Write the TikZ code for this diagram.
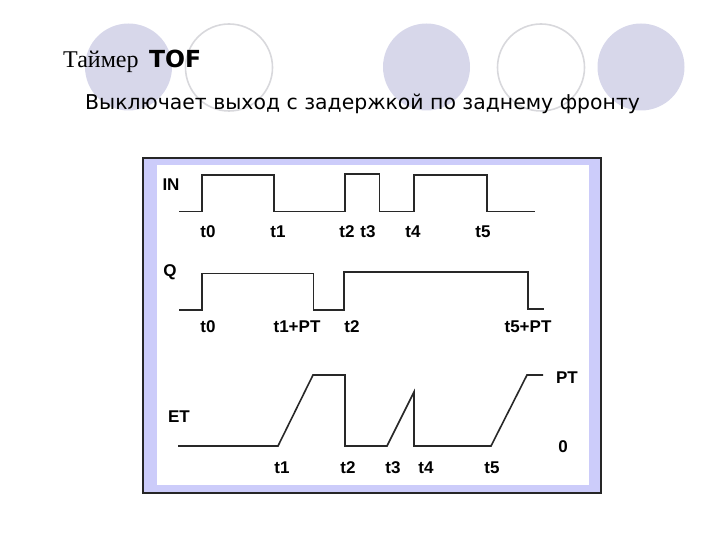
\documentclass[tikz,border=0pt]{standalone}
\usepackage{fontspec}
\setmainfont{Liberation Serif}
\newfontfamily\dvs{DejaVu Sans}
\newfontfamily\lsans{Liberation Sans}
\definecolor{discfill}{RGB}{215,215,234}
\definecolor{ringcol}{RGB}{216,216,220}
\definecolor{bandcol}{RGB}{204,204,250}
\definecolor{wavecol}{RGB}{40,40,40}
\begin{document}
\begin{tikzpicture}[x=1pt,y=-1pt,
  disc/.style={fill=discfill,draw=none},
  ring/.style={draw=ringcol,line width=1.6pt,fill=none},
  wave/.style={draw=wavecol,line width=1.6pt,line join=miter},
  lbl/.style={font=\lsans\bfseries\fontsize{17}{19}\selectfont,inner sep=0pt,text=black}]
\useasboundingbox (0,0) rectangle (720,540);
% decorative circles
\fill[disc] (128.5,67) circle[radius=43.5pt];
\draw[ring] (229,67.5) circle[radius=43.5pt];
\fill[disc] (426.5,67) circle[radius=43.5pt];
\draw[ring] (541,67.5) circle[radius=43.5pt];
\fill[disc] (641,67) circle[radius=43.5pt];
% titles
\node[anchor=base west,inner sep=0pt,font=\fontsize{24}{28}\selectfont] (ttl) at (63,68) {Таймер};
\node[anchor=base west,inner sep=0pt,font=\dvs\bfseries\fontsize{23.5}{27}\selectfont] (tof) at (149,68) {TOF};
\node[anchor=base west,inner sep=0pt,font=\dvs\fontsize{20.4}{24}\selectfont] (sub) at (85,110) {Выключает выход с задержкой по заднему фронту};
% frame
\fill[bandcol] (143,158) rectangle (601,493);
\fill[white] (157,165) rectangle (589,485);
\draw[black!85,line width=1.2pt] (143,158) rectangle (601,493);
% IN waveform
\draw[wave] (179,211.7) -- (201.7,211.7) -- (201.7,175) -- (274,175) -- (274,211.7)
  -- (344.7,211.7) -- (344.7,174) -- (379.3,174) -- (379.3,211.7) -- (414,211.7)
  -- (414,175) -- (486.7,175) -- (486.7,211.7) -- (535,211.7);
% Q waveform
\draw[wave] (179,310) -- (201.7,310) -- (201.7,273.3) -- (313.3,273.3) -- (313.3,310)
  -- (344,310) -- (344,271.7) -- (527.7,271.7) -- (527.7,309) -- (544.3,309);
% ET waveform
\draw[wave] (178,446) -- (278,446) -- (313,375) -- (345,375) -- (345,446) -- (387,446)
  -- (414,392) -- (414,446) -- (491,446) -- (527,375) -- (543,375);
% labels
\node[lbl] (lin) at (171,185) {IN};
\node[lbl] (ia) at (208,232) {t0};
\node[lbl] (ib) at (278,232) {t1};
\node[lbl] (ic) at (347,232) {t2};
\node[lbl] (id) at (368,232) {t3};
\node[lbl] (ie) at (413,232) {t4};
\node[lbl] (if) at (483,232) {t5};
\node[lbl] (lq) at (170,272) {Q};
\node[lbl] (qa) at (208,327) {t0};
\node[lbl] (qb) at (297,327) {t1+PT};
\node[lbl] (qc) at (352,327) {t2};
\node[lbl] (qd) at (528,327) {t5+PT};
\node[lbl] (let) at (179,417) {ET};
\node[lbl] (lpt) at (567,378) {PT};
\node[lbl] (lz) at (563,447) {0};
\node[lbl] (ea) at (282,468) {t1};
\node[lbl] (eb) at (348,468) {t2};
\node[lbl] (ec) at (393,468) {t3};
\node[lbl] (ed) at (426,468) {t4};
\node[lbl] (ee) at (492,468) {t5};
\end{tikzpicture}
\end{document}
